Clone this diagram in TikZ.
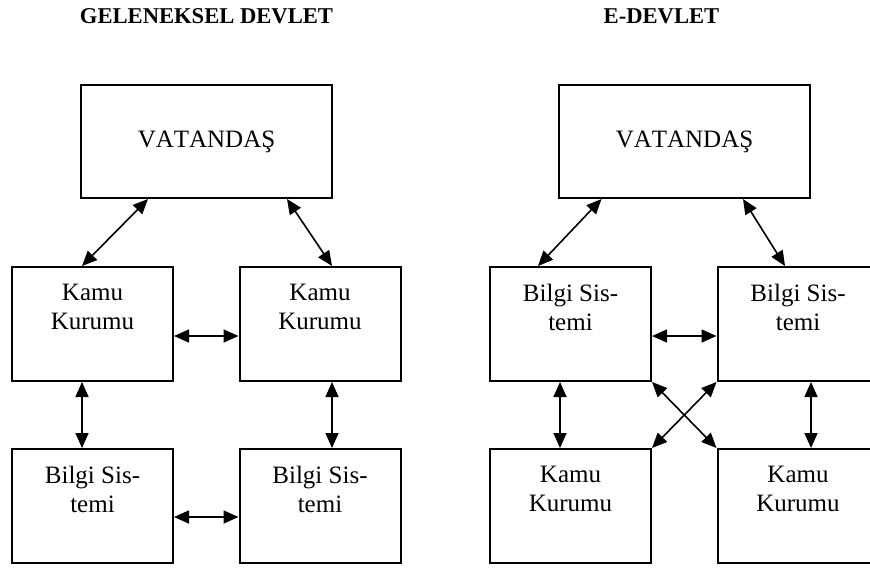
\documentclass[tikz,border=0pt]{standalone}
\usepackage{fontspec}
\setmainfont{Liberation Serif}[Kerning=Off]
\usepackage{tikz}
\usetikzlibrary{positioning,arrows.meta}

\tikzset{
  box/.style={draw,line width=1pt,minimum width=80.5pt,minimum height=57pt,inner sep=0pt},
  bigbox/.style={draw,line width=1pt,minimum width=125.5pt,minimum height=56.5pt,
    font=\fontsize{12.5}{14.5}\selectfont},
  boxtext/.style={anchor=north,align=center,inner sep=0pt,yshift=-9pt,
    font=\fontsize{12.5}{14.5}\selectfont},
  heading/.style={font=\fontsize{11.3}{13}\selectfont\bfseries,inner sep=0pt},
  link/.style={{Triangle[length=7.5pt,width=6.5pt]}-{Triangle[length=7.5pt,width=6.5pt]},line width=0.8pt},
}

\begin{document}
\begin{tikzpicture}[on grid,x=1pt,y=1pt]
  \clip (0,0) rectangle (435,-283.5);
  % geleneksel devlet
  \node[bigbox] (v1) at (103.25,-70.75) {VATANDAŞ};
  \node[heading] (t1) [above=62.5pt of v1] {GELENEKSEL DEVLET};
  \node[box,label={[boxtext]north:Kamu\\Kurumu}] (k1) [below left=91.25pt and 57pt of v1] {};
  \node[box,label={[boxtext]north:Kamu\\Kurumu}] (k2) [below right=91.25pt and 56.75pt of v1] {};
  \node[box,label={[boxtext]north:Bilgi Sis-\\temi}] (b1) [below=91pt of k1] {};
  \node[box,label={[boxtext]north:Bilgi Sis-\\temi}] (b2) [below=91pt of k2] {};
  % e-devlet
  \node[bigbox] (v2) [right=239pt of v1] {VATANDAŞ};
  \node[heading] (t2) [above left=62.5pt and 11.5pt of v2] {E-DEVLET};
  \node[box,label={[boxtext]north:Bilgi Sis-\\temi}] (s1) [below left=91.25pt and 57pt of v2] {};
  \node[box,label={[boxtext]north:Bilgi Sis-\\temi}] (s2) [below right=91.25pt and 56.75pt of v2] {};
  \node[box,label={[boxtext]north:Kamu\\Kurumu}] (k3) [below=91pt of s1] {};
  \node[box,label={[boxtext]north:Kamu\\Kurumu}] (k4) [below=91pt of s2] {};
  \path[link]
  ([xshift=-29.25pt]v1.south) edge ([xshift=-5.25pt]k1.north)
  ([xshift=40.25pt]v1.south) edge ([xshift=6pt]k2.north)
  ([yshift=-6pt]k1.east) edge ([yshift=-6pt]k2.west)
  ([xshift=-5.25pt]k1.south) edge ([xshift=-5.25pt]b1.north)
  ([xshift=6pt]k2.south) edge ([xshift=6pt]b2.north)
  ([yshift=-5.5pt]b1.east) edge ([yshift=-5.5pt]b2.west)
  ([xshift=-41.5pt]v2.south) edge ([xshift=-16.25pt]s1.north)
  ([xshift=29.25pt]v2.south) edge ([xshift=-6.5pt]s2.north)
  ([yshift=-6pt]s1.east) edge ([yshift=-6pt]s2.west)
  ([xshift=-5.25pt]s1.south) edge ([xshift=-5.25pt]k3.north)
  ([xshift=6.5pt]s2.south) edge ([xshift=6.5pt]k4.north)
  (s1.south east) edge (k4.north west)
  (s2.south west) edge (k3.north east)
  ;
\end{tikzpicture}
\end{document}
